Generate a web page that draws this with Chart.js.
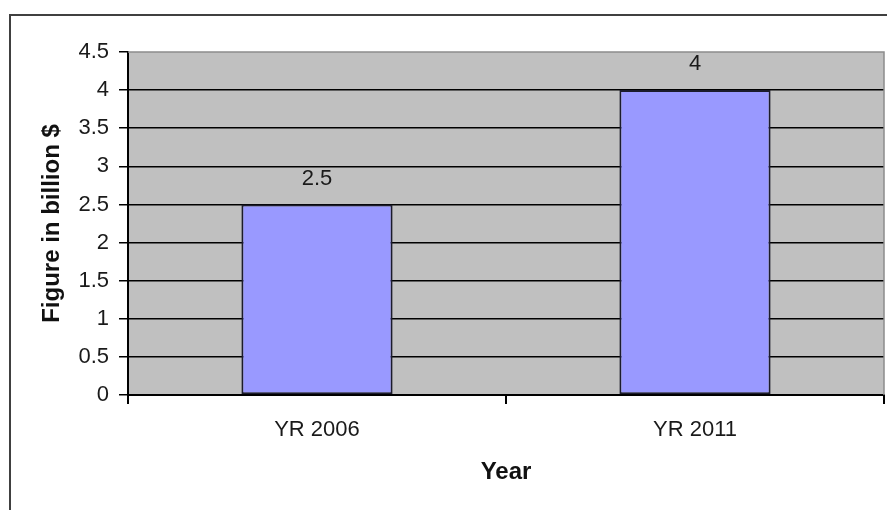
<!DOCTYPE html>
<html>
<head>
<meta charset="utf-8">
<script src="https://cdn.jsdelivr.net/npm/chart.js@4"></script>
<style>
    html, body { margin: 0; padding: 0; background: #fff; }
    #wrap { width: 887px; height: 510px; }
</style>
</head>
<body>
<div id="wrap"><canvas id="yearChart" width="887" height="510"></canvas></div>
<script>
// Chart data
const years = ["YR 2006", "YR 2011"];
const figures = [2.5, 4];
const yTicks = [0, 0.5, 1, 1.5, 2, 2.5, 3, 3.5, 4, 4.5];
const yTickLabels = ["0", "0.5", "1", "1.5", "2", "2.5", "3", "3.5", "4", "4.5"];

const labelFont = "'Liberation Sans', Arial, sans-serif";

// white page, outer frame and grey plot area
const backdrop = {
    id: "backdrop",
    beforeDraw(chart) {
        const { ctx, chartArea: a } = chart;
        ctx.save();
        ctx.fillStyle = "#fff";
        ctx.fillRect(0, 0, chart.width, chart.height);
        ctx.strokeStyle = "#404040";
        ctx.lineWidth = 2;
        ctx.beginPath();
        ctx.moveTo(10, chart.height + 5);
        ctx.lineTo(10, 15);
        ctx.lineTo(chart.width + 5, 15);
        ctx.stroke();
        ctx.fillStyle = "#c0c0c0";
        ctx.fillRect(a.left, a.top, a.right - a.left, a.bottom - a.top);
        ctx.restore();
    },
    afterDraw(chart) {
        const { ctx, chartArea: a } = chart;
        ctx.save();
        ctx.strokeStyle = "#8c8c8c";
        ctx.lineWidth = 1.5;
        ctx.beginPath();
        ctx.moveTo(a.left, a.top);
        ctx.lineTo(a.right, a.top);
        ctx.lineTo(a.right, a.bottom);
        ctx.stroke();
        ctx.restore();
    },
};

// value labels above the bars
const barValues = {
    id: "barValues",
    afterDatasetsDraw(chart) {
        const { ctx } = chart;
        const meta = chart.getDatasetMeta(0);
        ctx.save();
        ctx.font = "22px " + labelFont;
        ctx.fillStyle = "#1a1a1a";
        ctx.textAlign = "center";
        ctx.textBaseline = "middle";
        meta.data.forEach((bar, i) => {
            ctx.fillText(String(figures[i]), bar.x, bar.y - 26);
        });
        ctx.restore();
    },
};

new Chart(document.getElementById("yearChart"), {
    type: "bar",
    data: {
        labels: years,
        datasets: [
            {
                data: figures,
                backgroundColor: "#9999ff",
                borderColor: "#1c1c2c",
                borderWidth: 2,
                borderSkipped: false,
                barPercentage: 0.4,
                categoryPercentage: 1,
            },
        ],
    },
    options: {
        responsive: false,
        animation: false,
        layout: {
            padding: { left: 0, top: 52, right: 3, bottom: 0 },
        },
        plugins: {
            legend: { display: false },
            tooltip: { enabled: false },
        },
        scales: {
            x: {
                afterFit: (scale) => {
                    scale.height = 115;
                },
                grid: {
                    offset: true,
                    drawOnChartArea: false,
                    color: "#000",
                    lineWidth: 2,
                    tickLength: 9,
                },
                border: { color: "#000", width: 2 },
                ticks: {
                    color: "#1a1a1a",
                    padding: 13,
                    font: { family: labelFont, size: 22 },
                },
                title: {
                    display: true,
                    text: "Year",
                    color: "#111",
                    padding: { top: 0, bottom: 23 },
                    font: { family: labelFont, size: 24, weight: "bold" },
                },
            },
            y: {
                min: 0,
                max: 4.5,
                afterFit: (scale) => {
                    scale.width = 128;
                },
                afterBuildTicks: (scale) => {
                    scale.ticks = yTicks.map((v) => ({ value: v }));
                },
                grid: {
                    color: (c) => (c.tick && c.tick.value === 4.5 ? "rgba(0,0,0,0)" : "#000"),
                    tickColor: "#000",
                    lineWidth: 1.5,
                    tickLength: 9,
                },
                border: { color: "#000", width: 2 },
                ticks: {
                    color: "#1a1a1a",
                    padding: 10,
                    font: { family: labelFont, size: 22 },
                    callback: (value, index) => yTickLabels[index],
                },
                title: {
                    display: true,
                    text: "Figure in billion $",
                    color: "#111",
                    padding: { top: 38, bottom: 0 },
                    font: { family: labelFont, size: 24, weight: "bold" },
                },
            },
        },
    },
    plugins: [backdrop, barValues],
});
</script>
</body>
</html>
